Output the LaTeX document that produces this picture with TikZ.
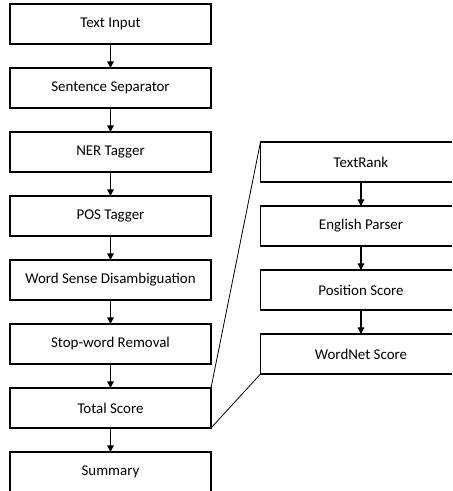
\documentclass[tikz,border=0pt]{standalone}
\usepackage{fontspec}
\setmainfont{Carlito}
\usetikzlibrary{positioning,arrows.meta}
\begin{document}
\begin{tikzpicture}[>={Triangle[length=5pt,width=5pt]},x=0.75pt,y=-0.75pt,
		box/.style={draw,line width=0.8pt,minimum width=150.75pt,minimum height=30pt,inner sep=0pt,outer sep=0pt,font=\fontsize{11.2}{13}\selectfont},
		node distance=18pt]
	\useasboundingbox (0,0) rectangle (452,491);
	\clip (0,0) rectangle (452,491);
	% cột chính
	\node[box] (input) at (110.5,24) {Text Input};
	\node[box,below=of input] (sent) {Sentence Separator};
	\node[box,below=of sent] (ner) {NER Tagger};
	\node[box,below=of ner] (pos) {POS Tagger};
	\node[box,below=of pos] (wsd) {Word Sense Disambiguation};
	\node[box,below=of wsd] (stop) {Stop-word Removal};
	\node[box,below=of stop] (total) {Total Score};
	\node[box,below=of total] (summ) {Summary};
	% cột chi tiết của Total Score
	\node[box] (rank) at (361,162) {TextRank};
	\node[box,below=of rank] (parser) {English Parser};
	\node[box,below=of parser] (posscore) {Position Score};
	\node[box,below=of posscore] (wordnet) {WordNet Score};
	\foreach \a/\b in {input/sent,sent/ner,ner/pos,pos/wsd,wsd/stop,stop/total,total/summ,rank/parser,parser/posscore,posscore/wordnet}
		\draw[->,line width=0.8pt] (\a) -- (\b);
	\draw[line width=0.6pt] (total.north east) -- (rank.north west);
	\draw[line width=0.6pt] (total.south east) -- (wordnet.south west);
\end{tikzpicture}
\end{document}
